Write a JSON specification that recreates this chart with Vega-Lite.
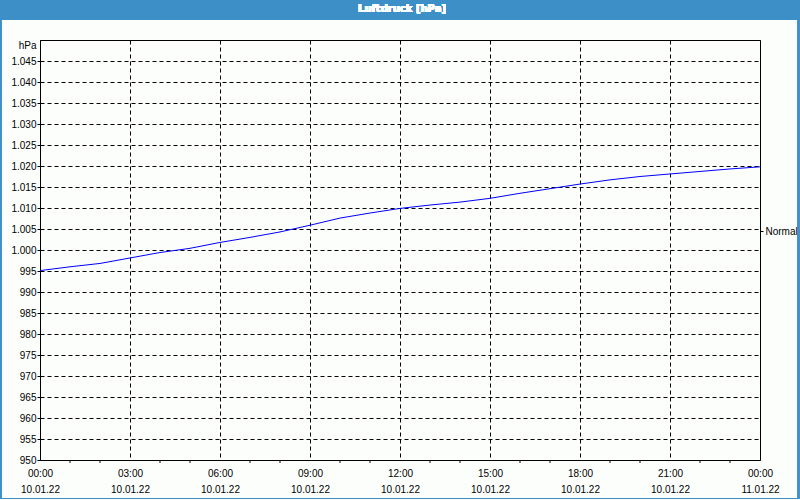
{
  "$schema": "https://vega.github.io/schema/vega-lite/v6.json",
  "width": 720,
  "height": 420,
  "autosize": {"type": "none"},
  "padding": {"left": 40, "top": 40, "right": 40, "bottom": 40},
  "background": "#fcfefc",
  "config": {
    "view": {"stroke": "#000000", "strokeWidth": 1},
    "font": "Liberation Sans"
  },
  "datasets": {
    "pressure": [
      {"time": "2022-01-10T00:00", "hPa": 995.1},
      {"time": "2022-01-10T01:00", "hPa": 996.0},
      {"time": "2022-01-10T02:00", "hPa": 996.8},
      {"time": "2022-01-10T03:00", "hPa": 998.1},
      {"time": "2022-01-10T04:00", "hPa": 999.4},
      {"time": "2022-01-10T05:00", "hPa": 1000.4},
      {"time": "2022-01-10T06:00", "hPa": 1001.8},
      {"time": "2022-01-10T07:00", "hPa": 1003.0},
      {"time": "2022-01-10T08:00", "hPa": 1004.3},
      {"time": "2022-01-10T09:00", "hPa": 1005.9},
      {"time": "2022-01-10T10:00", "hPa": 1007.6},
      {"time": "2022-01-10T11:00", "hPa": 1008.8},
      {"time": "2022-01-10T12:00", "hPa": 1009.9},
      {"time": "2022-01-10T13:00", "hPa": 1010.7},
      {"time": "2022-01-10T14:00", "hPa": 1011.4},
      {"time": "2022-01-10T15:00", "hPa": 1012.3},
      {"time": "2022-01-10T16:00", "hPa": 1013.5},
      {"time": "2022-01-10T17:00", "hPa": 1014.6},
      {"time": "2022-01-10T18:00", "hPa": 1015.7},
      {"time": "2022-01-10T19:00", "hPa": 1016.7},
      {"time": "2022-01-10T20:00", "hPa": 1017.5},
      {"time": "2022-01-10T21:00", "hPa": 1018.1},
      {"time": "2022-01-10T22:00", "hPa": 1018.7},
      {"time": "2022-01-10T23:00", "hPa": 1019.3},
      {"time": "2022-01-11T00:00", "hPa": 1019.8}
    ]
  },
  "data": {"name": "pressure"},
  "resolve": {"axis": {"x": "independent", "y": "independent"}},
  "layer": [
    {
      "mark": {"type": "rect", "color": "#3d8fc8"},
      "encoding": {
        "x": {"datum": {"year": 2022, "month": 1, "date": 9, "hours": 22, "minutes": 30}, "type": "temporal", "axis": null,
              "scale": {"domain": [{"year": 2022, "month": 1, "date": 10, "hours": 0}, {"year": 2022, "month": 1, "date": 11, "hours": 0}], "nice": false}},
        "x2": {"datum": {"year": 2022, "month": 1, "date": 11, "hours": 1, "minutes": 30}},
        "y": {"datum": 1062, "type": "quantitative", "axis": null, "scale": {"domain": [950, 1050], "nice": false, "zero": false}},
        "y2": {"datum": 1054.75}
      }
    },
    {
      "mark": {"type": "rect", "fillOpacity": 0, "stroke": "#3d8fc8", "strokeWidth": 1.2},
      "encoding": {
        "x": {"datum": {"year": 2022, "month": 1, "date": 9, "hours": 22, "minutes": 41}, "type": "temporal", "axis": null,
              "scale": {"domain": [{"year": 2022, "month": 1, "date": 10, "hours": 0}, {"year": 2022, "month": 1, "date": 11, "hours": 0}], "nice": false}},
        "x2": {"datum": {"year": 2022, "month": 1, "date": 11, "hours": 1, "minutes": 17}},
        "y": {"datum": 1060, "type": "quantitative", "axis": null, "scale": {"domain": [950, 1050], "nice": false, "zero": false}},
        "y2": {"datum": 940.83}
      }
    },
    {
      "mark": {"type": "text", "text": "Luftdruck [hPa]", "color": "#ffffff", "fontWeight": "bold", "fontSize": 10, "font": "DejaVu Sans", "align": "center", "baseline": "middle"},
      "encoding": {
        "x": {"datum": {"year": 2022, "month": 1, "date": 10, "hours": 12, "minutes": 4}, "type": "temporal", "axis": null,
              "scale": {"domain": [{"year": 2022, "month": 1, "date": 10, "hours": 0}, {"year": 2022, "month": 1, "date": 11, "hours": 0}], "nice": false}},
        "y": {"datum": 1057.4, "type": "quantitative", "axis": null, "scale": {"domain": [950, 1050], "nice": false, "zero": false}}
      }
    },
    {
      "transform": [{"filter": "hours(datum.time) % 3 != 0"}],
      "mark": {"type": "rule", "color": "#000000", "strokeWidth": 1},
      "encoding": {
        "x": {"field": "time", "type": "temporal", "axis": null,
              "scale": {"domain": [{"year": 2022, "month": 1, "date": 10, "hours": 0}, {"year": 2022, "month": 1, "date": 11, "hours": 0}], "nice": false}},
        "y": {"datum": 950, "type": "quantitative", "axis": null, "scale": {"domain": [950, 1050], "nice": false, "zero": false}},
        "y2": {"datum": 949.3}
      }
    },
    {
      "mark": {"type": "line", "color": "#0000ff", "strokeWidth": 1, "interpolate": "linear"},
      "encoding": {
        "x": {
          "field": "time", "type": "temporal",
          "scale": {"domain": [{"year": 2022, "month": 1, "date": 10, "hours": 0}, {"year": 2022, "month": 1, "date": 11, "hours": 0}], "nice": false},
          "axis": {
            "title": null,
            "values": [
              {"year": 2022, "month": 1, "date": 10, "hours": 0},
              {"year": 2022, "month": 1, "date": 10, "hours": 3},
              {"year": 2022, "month": 1, "date": 10, "hours": 6},
              {"year": 2022, "month": 1, "date": 10, "hours": 9},
              {"year": 2022, "month": 1, "date": 10, "hours": 12},
              {"year": 2022, "month": 1, "date": 10, "hours": 15},
              {"year": 2022, "month": 1, "date": 10, "hours": 18},
              {"year": 2022, "month": 1, "date": 10, "hours": 21},
              {"year": 2022, "month": 1, "date": 11, "hours": 0}
            ],
            "domainColor": "#000000",
            "domainWidth": 1,
            "ticks": false,
            "grid": true,
            "gridColor": "#000000",
            "gridDash": [4, 3],
            "gridWidth": 1,
            "labelExpr": "[timeFormat(datum.value, '%H:%M'), timeFormat(datum.value, '%d.%m.%y')]",
            "labelOverlap": false,
            "labelFlush": false,
            "labelBaseline": "top",
            "labelPadding": 8,
            "labelLineHeight": 16,
            "labelFont": "Liberation Sans",
            "labelFontSize": 10,
            "labelColor": "#000000"
          }
        },
        "y": {
          "field": "hPa", "type": "quantitative",
          "scale": {"domain": [950, 1050], "nice": false, "zero": false},
          "axis": {
            "title": "hPa",
            "titleAngle": 0,
            "titleAlign": "right",
            "titleBaseline": "middle",
            "titleX": -4,
            "titleY": 5,
            "titleFont": "Liberation Sans",
            "titleFontSize": 10,
            "titleFontWeight": "normal",
            "titleColor": "#000000",
            "values": [950, 955, 960, 965, 970, 975, 980, 985, 990, 995, 1000, 1005, 1010, 1015, 1020, 1025, 1030, 1035, 1040, 1045],
            "labelExpr": "replace(format(datum.value, ','), ',', '.')",
            "labelFont": "Liberation Sans",
            "labelFontSize": 10,
            "labelColor": "#000000",
            "labelPadding": 1,
            "labelOverlap": false,
            "labelFlush": false,
            "domainColor": "#000000",
            "tickColor": "#000000",
            "tickSize": 3,
            "grid": true,
            "gridColor": "#000000",
            "gridDash": [4, 3],
            "gridWidth": 1
          }
        }
      }
    },
    {
      "mark": {"type": "rule", "opacity": 0},
      "encoding": {
        "y": {
          "datum": 1004.5, "type": "quantitative",
          "scale": {"domain": [950, 1050], "nice": false, "zero": false},
          "axis": {
            "orient": "right",
            "title": null,
            "values": [1004.5],
            "labelExpr": "'Normal'",
            "labelFont": "Liberation Sans",
            "labelFontSize": 10,
            "labelColor": "#000000",
            "labelPadding": 2,
            "domain": false,
            "grid": false,
            "tickColor": "#000000",
            "tickSize": 3
          }
        }
      }
    }
  ]
}
